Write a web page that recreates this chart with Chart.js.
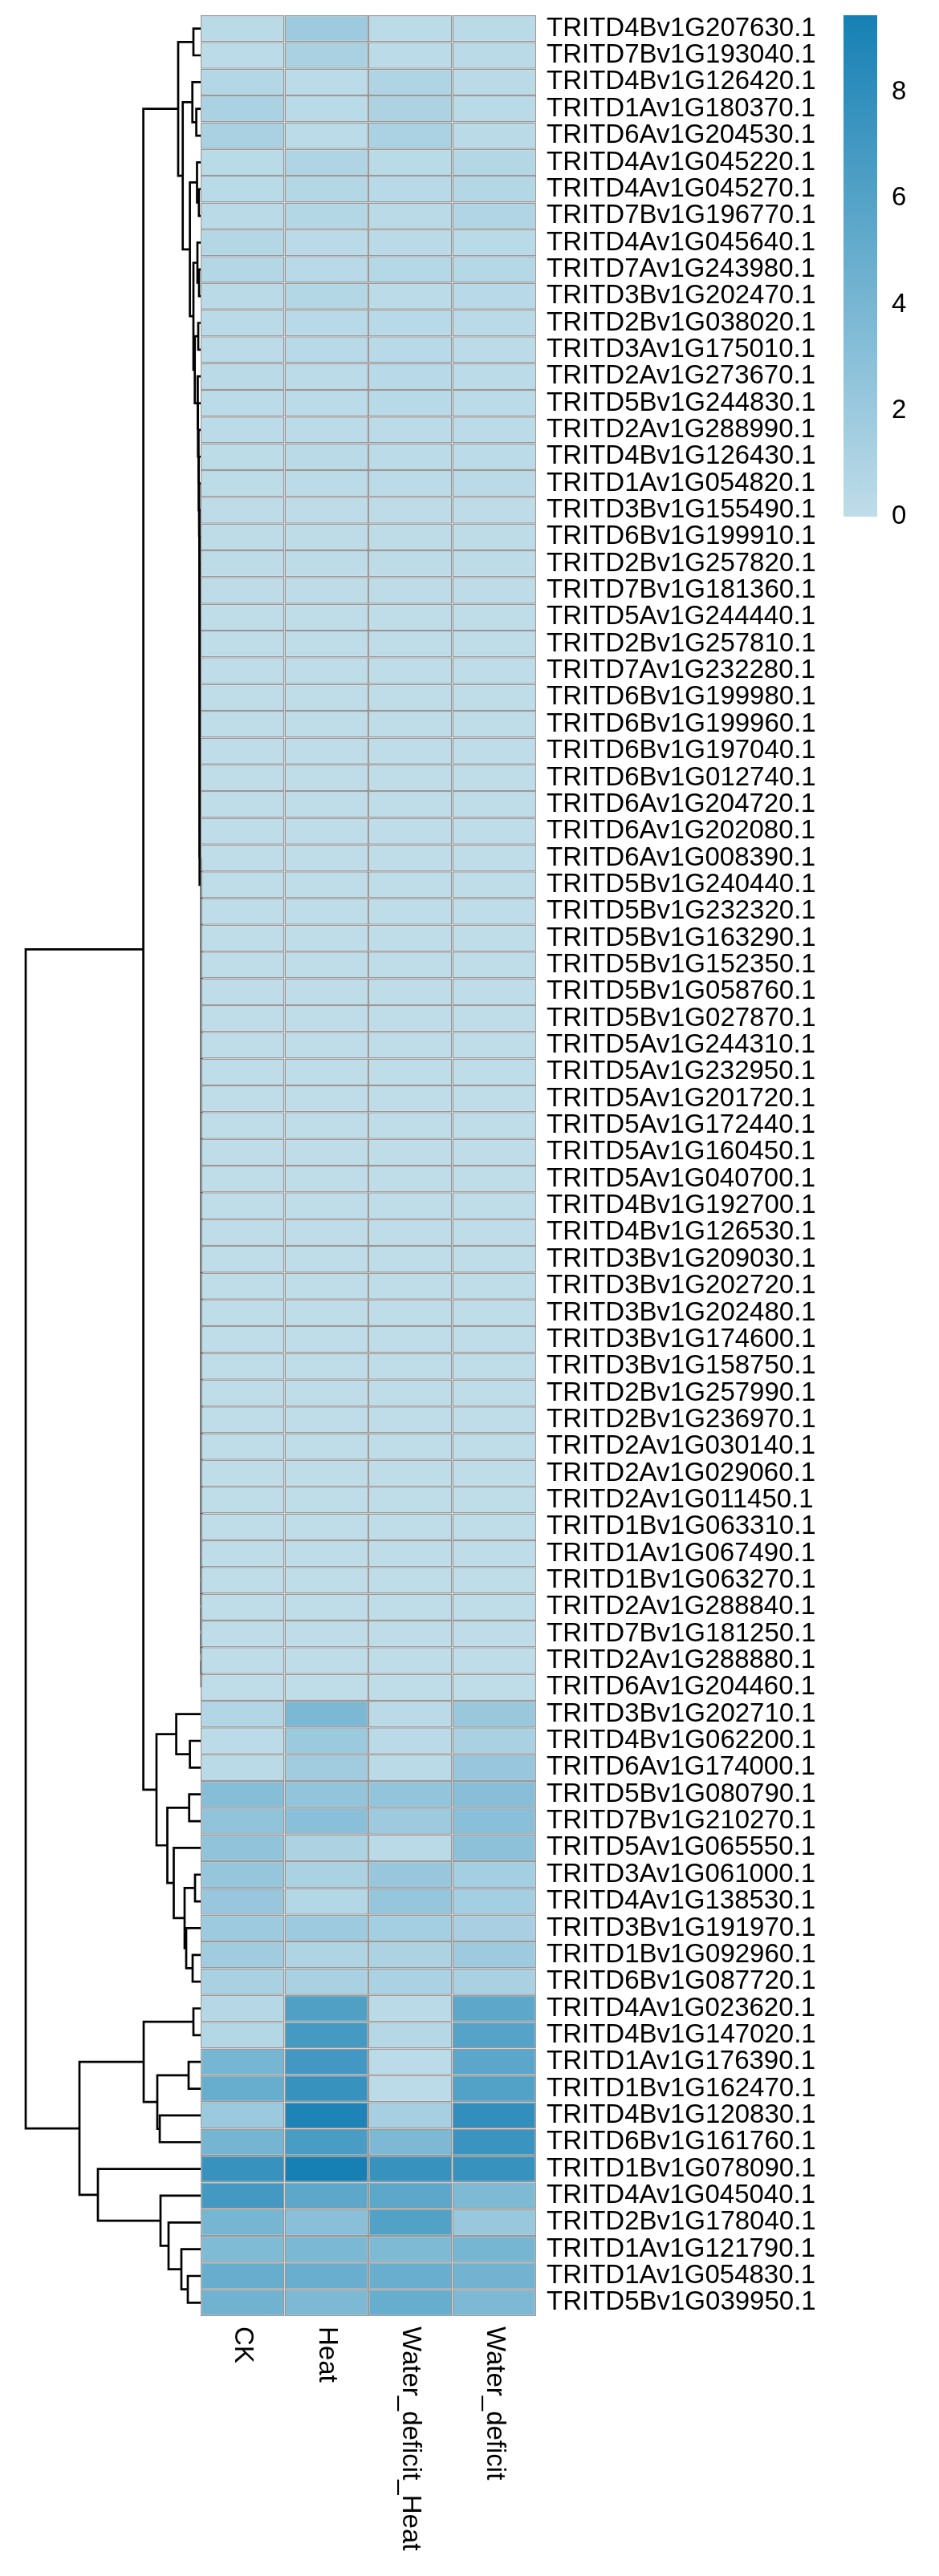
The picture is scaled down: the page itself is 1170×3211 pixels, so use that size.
<!DOCTYPE html>
<html><head><meta charset="utf-8">
<script src="https://cdn.jsdelivr.net/npm/chart.js@4"></script>
<style>
html,body{margin:0;padding:0;background:#fff;}
#wrap{position:relative;width:1170px;height:3211px;overflow:hidden;background:#fff;}
canvas{position:absolute;left:0;top:0;}
</style></head><body>
<div id="wrap">
<canvas id="dendro" width="1170" height="3211"></canvas>
<canvas id="heat" width="1170" height="3211"></canvas>
<canvas id="legend" width="1170" height="3211"></canvas>
</div>
<script>
// ---------------- DATA ----------------
const conditions = ['CK', 'Heat', 'Water_deficit_Heat', 'Water_deficit'];

const genes = [
 'TRITD4Bv1G207630.1','TRITD7Bv1G193040.1','TRITD4Bv1G126420.1','TRITD1Av1G180370.1','TRITD6Av1G204530.1',
 'TRITD4Av1G045220.1','TRITD4Av1G045270.1','TRITD7Bv1G196770.1','TRITD4Av1G045640.1','TRITD7Av1G243980.1',
 'TRITD3Bv1G202470.1','TRITD2Bv1G038020.1','TRITD3Av1G175010.1','TRITD2Av1G273670.1','TRITD5Bv1G244830.1',
 'TRITD2Av1G288990.1','TRITD4Bv1G126430.1','TRITD1Av1G054820.1','TRITD3Bv1G155490.1','TRITD6Bv1G199910.1',
 'TRITD2Bv1G257820.1','TRITD7Bv1G181360.1','TRITD5Av1G244440.1','TRITD2Bv1G257810.1','TRITD7Av1G232280.1',
 'TRITD6Bv1G199980.1','TRITD6Bv1G199960.1','TRITD6Bv1G197040.1','TRITD6Bv1G012740.1','TRITD6Av1G204720.1',
 'TRITD6Av1G202080.1','TRITD6Av1G008390.1','TRITD5Bv1G240440.1','TRITD5Bv1G232320.1','TRITD5Bv1G163290.1',
 'TRITD5Bv1G152350.1','TRITD5Bv1G058760.1','TRITD5Bv1G027870.1','TRITD5Av1G244310.1','TRITD5Av1G232950.1',
 'TRITD5Av1G201720.1','TRITD5Av1G172440.1','TRITD5Av1G160450.1','TRITD5Av1G040700.1','TRITD4Bv1G192700.1',
 'TRITD4Bv1G126530.1','TRITD3Bv1G209030.1','TRITD3Bv1G202720.1','TRITD3Bv1G202480.1','TRITD3Bv1G174600.1',
 'TRITD3Bv1G158750.1','TRITD2Bv1G257990.1','TRITD2Bv1G236970.1','TRITD2Av1G030140.1','TRITD2Av1G029060.1',
 'TRITD2Av1G011450.1','TRITD1Bv1G063310.1','TRITD1Av1G067490.1','TRITD1Bv1G063270.1','TRITD2Av1G288840.1',
 'TRITD7Bv1G181250.1','TRITD2Av1G288880.1','TRITD6Av1G204460.1','TRITD3Bv1G202710.1','TRITD4Bv1G062200.1',
 'TRITD6Av1G174000.1','TRITD5Bv1G080790.1','TRITD7Bv1G210270.1','TRITD5Av1G065550.1','TRITD3Av1G061000.1',
 'TRITD4Av1G138530.1','TRITD3Bv1G191970.1','TRITD1Bv1G092960.1','TRITD6Bv1G087720.1','TRITD4Av1G023620.1',
 'TRITD4Bv1G147020.1','TRITD1Av1G176390.1','TRITD1Bv1G162470.1','TRITD4Bv1G120830.1','TRITD6Bv1G161760.1',
 'TRITD1Bv1G078090.1','TRITD4Av1G045040.1','TRITD2Bv1G178040.1','TRITD1Av1G121790.1','TRITD1Av1G054830.1',
 'TRITD5Bv1G039950.1'
];

const valuesCK = [
 0.3,0.2,0.6,1.1,1.2, 0.35,0.35,0.3,0.6,0.6, 0.3,0.3,0.25,0.3,0.25, 0.2,0.15,0.15,
 0.1,0.1,0.1,0.1,0.05, 0.05,0.05,0.05,0.05,0.05, 0,0,0,0,0, 0,0,0,0,0, 0,0,0,0,0, 0,0,0,0,0, 0,0,0,0,0, 0,0,0,0,0, 0,0,0,0,0,
 0.7,0.2,0.3,3.2,2.6, 2.6,2.3,2.2,1.9,1.7, 1.2,0.5,0.6,4.0,4.9, 2.0,4.1,7.6,6.9,4.0, 3.5,4.9,4.4
];
const valuesHeat = [
 1.9,1.2,0.2,0.35,0.25, 0.9,0.6,0.65,0.3,0.4, 0.6,0.4,0.4,0.2,0.25, 0.25,0.3,0.25,
 0.1,0.1,0.1,0.1,0.05, 0.05,0.05,0.05,0.05,0.05, 0,0,0,0,0, 0,0,0,0,0, 0,0,0,0,0, 0,0,0,0,0, 0,0,0,0,0, 0,0,0,0,0, 0,0,0,0,0,
 3.8,2.0,1.7,2.5,3.0, 1.0,1.1,0.6,1.9,0.9, 1.2,6.2,6.8,7.0,7.6, 9.0,6.6,9.45,5.5,3.0, 3.8,4.8,3.7
];
const valuesWDH = [
 0.2,0.2,0.9,1.0,1.1, 0.35,0.4,0.3,0.3,0.55, 0.25,0.4,0.4,0.4,0.4, 0.25,0.2,0.2,
 0.1,0.1,0.1,0.1,0.05, 0.05,0.05,0.05,0.05,0.05, 0,0,0,0,0, 0,0,0,0,0, 0,0,0,0,0, 0,0,0,0,0, 0,0,0,0,0, 0,0,0,0,0, 0,0,0,0,0,
 0.3,0.3,0.3,2.5,1.9, 0.3,2.2,2.3,1.5,1.0, 1.1,0.3,0.5,0.2,0.2, 1.4,3.7,7.6,5.5,6.1, 3.6,4.8,4.9
];
const valuesWD = [
 0.3,0.3,0.3,0.35,0.3, 0.6,0.65,0.8,0.35,0.55, 0.4,0.3,0.25,0.2,0.25, 0.2,0.25,0.3,
 0.1,0.1,0.1,0.1,0.05, 0.05,0.05,0.05,0.05,0.05, 0,0,0,0,0, 0,0,0,0,0, 0,0,0,0,0, 0,0,0,0,0, 0,0,0,0,0, 0,0,0,0,0, 0,0,0,0,0,
 2.1,1.2,2.2,3.1,3.0, 2.8,1.5,1.5,1.3,1.9, 1.2,5.5,5.9,5.6,6.1, 7.9,7.4,7.6,3.6,2.1, 4.0,4.3,3.7
];
const series = [valuesCK, valuesHeat, valuesWDH, valuesWD];

// colour scale / legend
const legendMin = 0;
const legendMax = 9.45;
const legendTicks = [0, 2, 4, 6, 8];
const lowColor = [191, 221, 233];
const highColor = [22, 128, 180];

// row dendrogram, hclust-style merges: [a, b, height]; negative = row number, positive = earlier merge
const merges = [
 [-62,-63,0],[-61,1,0],[-60,2,0],[-59,3,0],[-58,4,0],[-57,5,0],[-56,6,0],[-55,7,0],[-54,8,0],[-53,9,0],
 [-52,10,0],[-51,11,0],[-50,12,0],[-49,13,0],[-48,14,0],[-47,15,0],[-46,16,0],[-45,17,0],[-44,18,0],[-43,19,0],
 [-42,20,0],[-41,21,0],[-40,22,0],[-39,23,0],[-38,24,0],[-37,25,0],[-36,26,0],[-35,27,0],[-34,28,0],
 [-33,29,0],[-32,30,0],[-31,31,2.3],[-30,32,2.32],[-29,33,2.34],[-28,34,2.36],[-27,35,2.38],[-26,36,2.4],
 [-25,37,2.42],[-24,38,2.44],[-23,39,2.46],[-22,40,2.5],[-21,41,2.55],[-20,42,2.6],[-19,43,2.7],
 [-18,44,3.0],[-17,45,3.4],[-16,46,3.8],[-15,47,4.3],[-14,48,4.8],
 [-12,-13,4.0],[50,49,8.3],
 [-10,-11,3.0],[-9,52,5.0],[53,51,10.0],
 [-7,-8,3.2],[-6,55,5.5],[56,54,14.4],
 [-4,-5,6.4],[-3,58,11.3],[59,57,23.3],
 [-1,-2,10.0],[61,60,29.0],
 [-65,-66,14.4],[-64,63,31.4],
 [-67,-68,15.3],[-70,-71,8.0],[-73,-74,11.0],[-72,67,19.0],[66,68,21.0],[-69,69,34.5],[65,70,42.5],
 [64,71,56.0],
 [62,72,72.4],
 [-75,-76,10.0],[-77,-78,16.0],[-79,-80,52.0],[75,76,55.0],[74,77,72.0],
 [-85,-86,17.0],[-84,79,25.0],[-83,80,41.0],[-82,81,51.0],[-81,82,129.0],
 [78,83,152.0],
 [73,84,219.0]
];
const dendroMaxHeight = 219;

// ---------------- RENDER ----------------
const FONT = "'Liberation Sans', Arial, Helvetica, sans-serif";
const W = 1170, H = 3211;
const noPad = (s) => { s.paddingTop = 0; s.paddingBottom = 0; s.paddingLeft = 0; s.paddingRight = 0; };

function colorFor(v) {
  const t = Math.max(0, Math.min(1, (v - legendMin) / (legendMax - legendMin)));
  const c = lowColor.map((lo, i) => Math.round(lo + (highColor[i] - lo) * t));
  return `rgb(${c[0]},${c[1]},${c[2]})`;
}

// Dendrogram
const nodeInfo = [];
function refInfo(r) { return r < 0 ? { y: -r - 0.5, h: 0 } : nodeInfo[r - 1]; }
const dendroSets = merges.map(([a, b, h]) => {
  const A = refInfo(a), B = refInfo(b);
  nodeInfo.push({ y: (A.y + B.y) / 2, h });
  return {
    data: [{x: A.h, y: A.y}, {x: h, y: A.y}, {x: h, y: B.y}, {x: B.h, y: B.y}],
    showLine: true, borderColor: '#000', borderWidth: 2.7, pointRadius: 0,
    fill: false, tension: 0, clip: false, borderJoinStyle: 'miter'
  };
});

new Chart(document.getElementById('dendro'), {
  type: 'scatter',
  data: { datasets: dendroSets },
  options: {
    responsive: false, animation: false, events: [],
    layout: { padding: { left: 32, right: W - 251, top: 19, bottom: H - 2887 } },
    plugins: { legend: { display: false }, tooltip: { enabled: false } },
    scales: {
      x: { type: 'linear', display: false, reverse: true, min: 0, max: dendroMaxHeight },
      y: { type: 'linear', display: false, reverse: true, min: 0, max: genes.length }
    }
  }
});

// Heatmap
const colLabelPlugin = {
  id: 'colLabels',
  afterDraw(chart) {
    const xs = chart.scales.x, ctx = chart.ctx, top = chart.chartArea.bottom + 13;
    ctx.save();
    ctx.fillStyle = '#000';
    ctx.font = `33px ${FONT}`;
    ctx.textAlign = 'left';
    ctx.textBaseline = 'middle';
    conditions.forEach((name, c) => {
      ctx.save();
      ctx.translate(xs.getPixelForValue(c + 0.5), top);
      ctx.rotate(Math.PI / 2);
      ctx.fillText(name, 0, 0);
      ctx.restore();
    });
    ctx.restore();
  }
};

new Chart(document.getElementById('heat'), {
  type: 'bar',
  data: {
    labels: genes,
    datasets: conditions.map((name, c) => ({
      label: name,
      data: genes.map(() => [c, c + 1]),
      backgroundColor: (ctx) => colorFor(series[c][ctx.dataIndex]),
      borderColor: '#999999',
      borderWidth: 1.5,
      borderSkipped: false,
      barPercentage: 1,
      categoryPercentage: 1,
      grouped: false,
      inflateAmount: 0
    }))
  },
  options: {
    indexAxis: 'y',
    responsive: false, animation: false, events: [],
    layout: { padding: { left: 250, right: 102, top: 19, bottom: H - 2887 } },
    plugins: { legend: { display: false }, tooltip: { enabled: false } },
    scales: {
      x: { type: 'linear', display: false, min: 0, max: conditions.length },
      y: {
        type: 'category', position: 'right',
        grid: { display: false, drawTicks: false }, border: { display: false },
        ticks: { autoSkip: false, padding: 13, color: '#000', font: { family: FONT, size: 33 } },
        afterFit: (s) => { s.width = 400; noPad(s); }
      }
    }
  },
  plugins: [colLabelPlugin]
});

// Colour legend
new Chart(document.getElementById('legend'), {
  type: 'bar',
  data: {
    labels: [''],
    datasets: [{
      data: [[legendMin, legendMax]],
      backgroundColor: (ctx) => {
        const ch = ctx.chart;
        if (!ch.chartArea) return colorFor(legendMin);
        const ys = ch.scales.y;
        const g = ch.ctx.createLinearGradient(0, ys.getPixelForValue(legendMin), 0, ys.getPixelForValue(legendMax));
        g.addColorStop(0, colorFor(legendMin));
        g.addColorStop(1, colorFor(legendMax));
        return g;
      },
      borderWidth: 0, barPercentage: 1, categoryPercentage: 1, inflateAmount: 0
    }]
  },
  options: {
    responsive: false, animation: false, events: [],
    layout: { padding: { left: 1051, right: 17, top: 19, bottom: H - 644 } },
    plugins: { legend: { display: false }, tooltip: { enabled: false } },
    scales: {
      x: { display: false },
      y: {
        position: 'right', min: legendMin, max: legendMax,
        grid: { display: false, drawTicks: false }, border: { display: false },
        afterBuildTicks: (s) => { s.ticks = legendTicks.map(v => ({ value: v })); },
        ticks: { padding: 18, color: '#000', font: { family: FONT, size: 33 } },
        afterFit: (s) => { s.width = 60; noPad(s); }
      }
    }
  }
});
</script>
</body></html>
